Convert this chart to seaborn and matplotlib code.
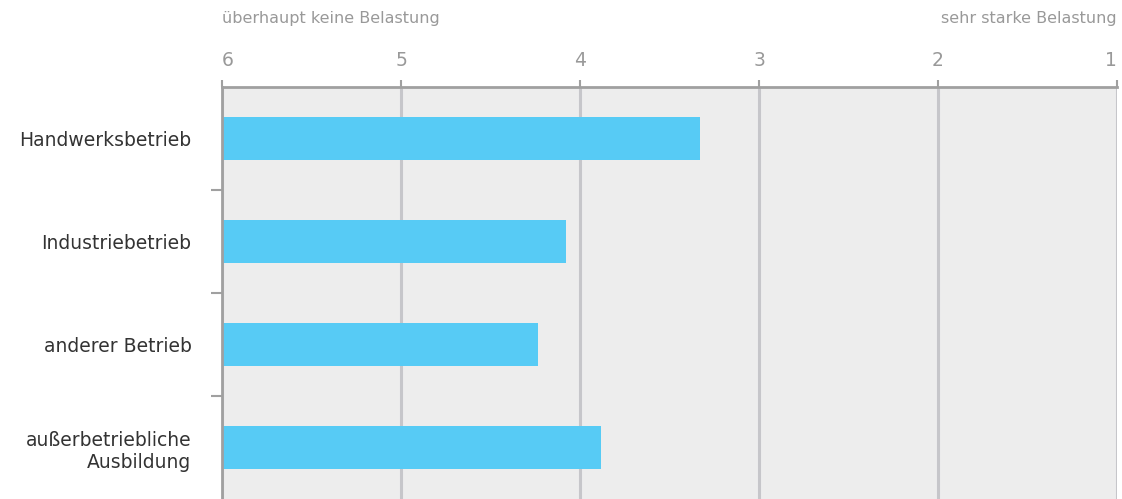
import matplotlib
matplotlib.use("Agg")
import matplotlib.pyplot as plt
import seaborn as sns
import numpy as np

# Mean stress rating per training setting (1 = very strong, 6 = none at all)
categories = ["Handwerksbetrieb", "Industriebetrieb", "anderer Betrieb",
              "außerbetriebliche\nAusbildung"]
scores = [3.33, 4.08, 4.235, 3.88]
scale_ticks = [6, 5, 4, 3, 2, 1]
scale_low = "überhaupt keine Belastung"
scale_high = "sehr starke Belastung"
BASE = 6  # bars grow from the "no stress" end of the scale

sns.set_style("white")
plt.rcParams["font.family"] = ["DejaVu Sans"]

fig = plt.figure(figsize=(11.22, 4.99), dpi=100)
ax = fig.add_axes([222 / 1122, 0.0, (1117 - 222) / 1122, 1 - 87 / 499])
ax.set_facecolor("#ededed")

sns.barplot(x=[s - BASE for s in scores], y=categories, orient="h",
            left=BASE, color="#57cbf5", saturation=1, width=0.42,
            errorbar=None, linewidth=0, ax=ax)

ax.set_xlim(6, 1)
ax.set_ylim(3.5, -0.5)
ax.set_xlabel("")
ax.set_ylabel("")

# value axis on top
ax.xaxis.tick_top()
ax.set_xticks(scale_ticks)
ax.set_xticklabels([str(t) for t in scale_ticks])
ax.tick_params(axis="x", which="major", direction="out", length=5, width=1.5,
               color="#a0a0a0", labelcolor="#999999", labelsize=13.5, pad=7)
xt = ax.get_xticklabels()
xt[0].set_ha("left")
xt[-1].set_ha("right")
ax.grid(axis="x", color="#c6c6ca", linewidth=2.2)
ax.grid(axis="y", visible=False)
ax.set_axisbelow(True)

# category axis with separators between rows
ax.set_yticks(range(len(categories)))
ax.set_yticklabels(categories)
ax.set_yticks([0.5, 1.5, 2.5], minor=True)
ax.tick_params(axis="y", which="major", length=0, labelsize=13.5,
               labelcolor="#333333", pad=22)
ax.tick_params(axis="y", which="minor", left=True, direction="out", length=8,
               width=1.5, color="#a0a0a0")

for side in ("right", "bottom"):
    ax.spines[side].set_visible(False)
for side in ("top", "left"):
    ax.spines[side].set_color("#a0a0a0")
    ax.spines[side].set_linewidth(2)

fig.text(222 / 1122, 1 - 18 / 499, scale_low, ha="left", va="center",
         fontsize=11.5, color="#999999")
fig.text(1117 / 1122, 1 - 18 / 499, scale_high, ha="right", va="center",
         fontsize=11.5, color="#999999")

fig.savefig("out.png", dpi=100)
